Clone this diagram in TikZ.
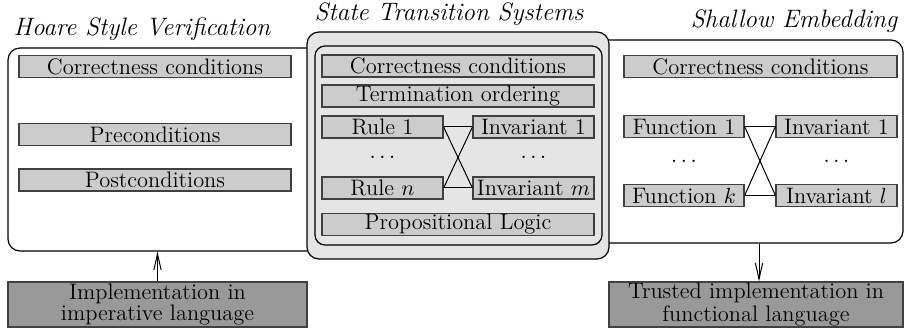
\documentclass[tikz,border=0pt]{standalone}
\usetikzlibrary{arrows.meta}
\newcommand\figfont{\fontsize{11.2}{13}\selectfont}
\tikzset{
  cell/.style={draw=black!75, fill=black!20, line width=0.6pt, inner sep=0pt,
    minimum height=11pt, font=\figfont},
  darkcell/.style={draw=black!75, fill=black!40, line width=0.6pt, inner sep=0pt,
    minimum height=22.5pt, align=center, font=\fontsize{11.2}{9.2}\selectfont},
  grp/.style={draw=black, line width=0.6pt, rounded corners=6pt, inner sep=0pt},
  ttl/.style={font=\fontsize{12.6}{14}\selectfont\itshape, inner sep=0pt},
  dotsn/.style={font=\figfont, inner sep=0pt},
  cross/.style={draw=black, line width=0.5pt},
  arr/.style={draw=black, line width=0.5pt, -{Straight Barb[length=8pt,width=3.6pt,line width=0.5pt]}}
}
\begin{document}
\begin{tikzpicture}[x=0.5pt,y=-0.5pt]
\useasboundingbox (0,0) rectangle (904,331);

% big groups
\node[grp, minimum width=297.5pt, minimum height=101.5pt] (hoare) at (305.5,149.5) {};
\node[grp, minimum width=293.5pt, minimum height=101.5pt] (shallow) at (609.5,141.5) {};
\node[grp, fill=black!10, minimum width=151pt, minimum height=113.5pt] (stsout) at (458,145.5) {};
\node[grp, rounded corners=5pt, minimum width=143.5pt, minimum height=99.5pt] (stsin) at (458.5,145.5) {};

% titles
\node[ttl] (thoare) at (142,29) {Hoare Style Verification};
\node[ttl] (tsts) at (449,14) {State Transition Systems};
\node[ttl] (tshallow) at (794,21) {Shallow Embedding};

% Hoare
\node[cell, minimum width=136pt] (hc) at (155,66.5) {Correctness conditions};
\node[cell, minimum width=136pt] (hpre) at (155,134.5) {Preconditions};
\node[cell, minimum width=136pt] (hpost) at (155,180) {Postconditions};

% STS
\node[cell, minimum width=136pt] (sc) at (458,66) {Correctness conditions};
\node[cell, minimum width=136pt] (st) at (458,96) {Termination ordering};
\node[cell, minimum width=60.5pt] (r1) at (382.5,127) {Rule 1};
\node[cell, minimum width=60.5pt] (i1) at (533.5,127) {Invariant 1};
\node[dotsn] (d1) at (382.5,157) {$\dots$};
\node[dotsn] (d2) at (533.5,157) {$\dots$};
\node[cell, minimum width=60.5pt] (rn) at (382.5,188) {Rule $n$};
\node[cell, minimum width=60.5pt] (im) at (533.5,188) {Invariant $m$};
\node[cell, minimum width=136pt] (pl) at (458,224.5) {Propositional Logic};
\draw[cross] (r1.east) -- (i1.west);
\draw[cross] (r1.east) -- (im.west);
\draw[cross] (rn.east) -- (i1.west);
\draw[cross] (rn.east) -- (im.west);

% Shallow
\node[cell, minimum width=136.5pt] (shc) at (760.5,66.5) {Correctness conditions};
\node[cell, minimum width=60pt] (f1) at (684,126.5) {Function 1};
\node[cell, minimum width=60.5pt] (si1) at (836.5,126.5) {Invariant 1};
\node[dotsn] (d3) at (684,161) {$\dots$};
\node[dotsn] (d4) at (836.5,161) {$\dots$};
\node[cell, minimum width=60pt] (fk) at (684,195.5) {Function $k$};
\node[cell, minimum width=60.5pt] (sil) at (836.5,195.5) {Invariant $l$};
\draw[cross] (f1.east) -- (si1.west);
\draw[cross] (f1.east) -- (sil.west);
\draw[cross] (fk.east) -- (si1.west);
\draw[cross] (fk.east) -- (sil.west);

% bottom
\node[darkcell, minimum width=149.5pt] (impl) at (157.5,304.5) {Implementation in\\imperative language};
\node[darkcell, minimum width=147pt] (trusted) at (756,304.5) {Trusted implementation in\\functional language};
\coordinate (hb) at (impl.north |- hoare.south);
\coordinate (sb) at ([xshift=1.5pt]trusted.north |- shallow.south);
\coordinate (tt) at ([xshift=1.5pt]trusted.north);
\draw[arr] (impl.north) -- (hb);
\draw[arr] (sb) -- (tt);
\end{tikzpicture}
\end{document}
